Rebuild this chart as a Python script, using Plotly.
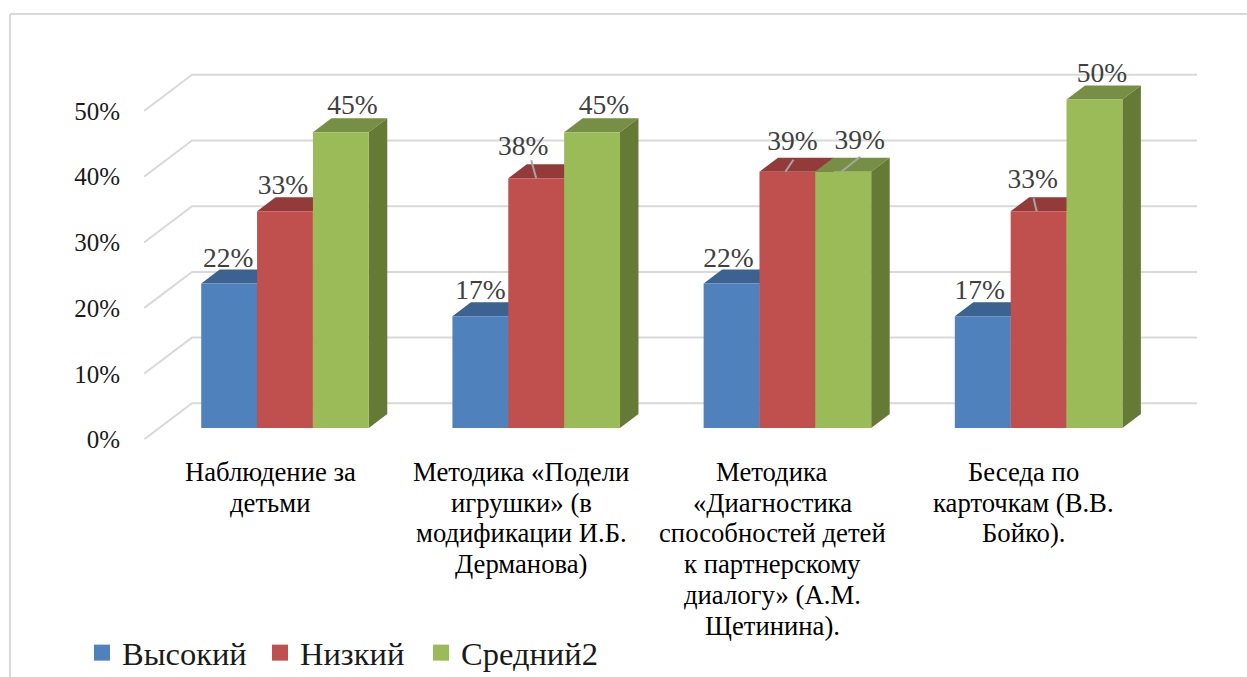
import plotly.graph_objects as go

# Data
categories = [
    "Наблюдение за<br>детьми",
    "Методика «Подели<br>игрушки» (в<br>модификации И.Б.<br>Дерманова)",
    "Методика<br>«Диагностика<br>способностей детей<br>к партнерскому<br>диалогу» (А.М.<br>Щетинина).",
    "Беседа по<br>карточкам (В.В.<br>Бойко).",
]
series_names = ["Высокий", "Низкий", "Средний2"]
vysokiy = [22, 17, 22, 17]
nizkiy = [33, 38, 39, 33]
sredniy = [45, 45, 39, 50]
tick_values = [0, 10, 20, 30, 40, 50]
tick_labels = ["0%", "10%", "20%", "30%", "40%", "50%"]

# Front, top and side colours of each series
front_colors = ["#4f81bd", "#c0504d", "#9bbb59"]
top_colors = ["#3c6290", "#923b39", "#778f44"]
side_colors = ["#2f4d72", "#763130", "#657a35"]

# Pixel geometry of the fake 3D box
W, H = 1247, 677
PLOT_L, PLOT_R, PLOT_T, PLOT_B = 144, 1197, 60, 439.5
PX_X = 251.2  # pixels per category
PX_Y = 6.57  # pixels per percent
BAR_W = 55.85 / PX_X
DEPTH_X = 18.5 / PX_X
DEPTH_Y = 14 / PX_Y
FLOOR = 11.5 / PX_Y  # bars stand this far above the front axis line
WALL_Y = 36.2 / PX_Y  # back wall gridlines
WALL_X = 48 / PX_X
X_MIN = (PLOT_L - 285) / PX_X
X_MAX = (PLOT_R - 285) / PX_X
Y_MAX = (PLOT_B - PLOT_T) / PX_Y
X_DOMAIN = [PLOT_L / W, PLOT_R / W]
Y_DOMAIN = [1 - PLOT_B / H, 1 - PLOT_T / H]

# Label offsets from bar centre / bar top, in pixels
label_dx = [[-1, 0, -3, -3], [-2, -13, 5, -6], [11.5, 12, 16.5, 7.5]]
label_dy = [[-23, -24, -23, -24], [-24.5, -30.5, -29, -30], [-25, -25, -30, -24.5]]
# (series, category, start dx, start dy, end dx) in pixels
leaders = [(1, 1, -5, -18, 0), (1, 2, 6, -12, -2), (2, 2, 17, -15, -2), (1, 3, -5, -13, -2)]
# Left edge of each legend entry, in pixels
legend_left = [82, 260, 421]


def bar_left(cat, s):
    return cat + (s - 1.5) * BAR_W


all_values = [vysokiy, nizkiy, sredniy]
n_cats = len(categories)
fig = go.Figure()

# Gridlines: a diagonal on the side wall, then along the back wall
grid_x, grid_y = [], []
for t in tick_values:
    grid_x += [X_MIN, X_MIN + WALL_X, X_MAX, None]
    grid_y += [t, t + WALL_Y, t + WALL_Y, None]
fig.add_trace(go.Scatter(x=grid_x, y=grid_y, mode="lines", line=dict(color="#d9d9d9", width=2),
                         showlegend=False, hoverinfo="skip"))

# Top and side faces sit under the bars of the overlaid subplot
for s, values in enumerate(all_values):
    top_x, top_y, side_x, side_y = [], [], [], []
    for c, v in enumerate(values):
        x0 = bar_left(c, s)
        x1 = x0 + BAR_W
        y1 = v + FLOOR
        top_x += [x0, x0 + DEPTH_X, x1 + DEPTH_X, x1, x0, None]
        top_y += [y1, y1 + DEPTH_Y, y1 + DEPTH_Y, y1, y1, None]
        side_x += [x1, x1 + DEPTH_X, x1 + DEPTH_X, x1, x1, None]
        side_y += [y1, y1 + DEPTH_Y, FLOOR + DEPTH_Y, FLOOR, y1, None]
    fig.add_trace(go.Scatter(x=top_x, y=top_y, mode="none", fill="toself", fillcolor=top_colors[s],
                             showlegend=False, hoverinfo="skip"))
    fig.add_trace(go.Scatter(x=side_x, y=side_y, mode="none", fill="toself", fillcolor=side_colors[s],
                             showlegend=False, hoverinfo="skip"))

# Front faces
for s, values in enumerate(all_values):
    fig.add_trace(go.Bar(
        x=list(range(n_cats)),
        y=values,
        base=FLOOR,
        name=series_names[s],
        marker=dict(color=front_colors[s], line=dict(width=0)),
        xaxis="x2",
        yaxis="y2",
        showlegend=False,
    ))

# Legend entries: bar swatches are too small, so use square markers.
# Each entry gets its own legend so the spacing can follow the picture.
legend_ids = ["legend", "legend2", "legend3"]
for s, name in enumerate(series_names):
    fig.add_trace(go.Scatter(x=[None], y=[None], mode="markers", name=name, legend=legend_ids[s],
                             marker=dict(symbol="square", size=16, color=front_colors[s])))

# Leader lines
lead_x, lead_y = [], []
for s, c, dx0, dy0, dx1 in leaders:
    center = bar_left(c, s) + BAR_W / 2
    top = all_values[s][c] + FLOOR
    lead_x += [center + dx0 / PX_X, center + dx1 / PX_X, None]
    lead_y += [top - dy0 / PX_Y, top, None]
fig.add_trace(go.Scatter(x=lead_x, y=lead_y, mode="lines", line=dict(color="#a6a6a6", width=2),
                         xaxis="x2", yaxis="y2", showlegend=False, hoverinfo="skip"))

# Data labels
for s, values in enumerate(all_values):
    fig.add_trace(go.Scatter(
        x=[bar_left(c, s) + BAR_W / 2 + label_dx[s][c] / PX_X for c in range(n_cats)],
        y=[v + FLOOR - label_dy[s][c] / PX_Y for c, v in enumerate(values)],
        text=[f"{v}%" for v in values],
        mode="text",
        textposition="middle center",
        textfont=dict(family="Liberation Serif", size=27.5, color="#404040"),
        xaxis="x2",
        yaxis="y2",
        showlegend=False,
        hoverinfo="skip",
    ))

# Category labels, one annotation per line because the line spacing is wider than plotly's
annotations = []
for c, label in enumerate(categories):
    for i, line in enumerate(label.split("<br>")):
        annotations.append(dict(
            x=c - 15 / PX_X, xref="x", xanchor="center",
            y=1 - (472 + i * 30.7) / H, yref="paper", yanchor="middle",
            text=line, showarrow=False,
            font=dict(family="Liberation Serif", size=26.7, color="#000000"),
        ))

legends = {
    legend_ids[s]: dict(
        x=legend_left[s] / W,
        xanchor="left",
        y=1 - 653 / H,
        yanchor="middle",
        font=dict(family="Liberation Serif", size=32.5, color="#1a1a1a"),
        bgcolor="rgba(0,0,0,0)",
        itemsizing="trace",
    )
    for s in range(3)
}

fig.update_layout(
    width=W,
    height=H,
    margin=dict(l=0, r=0, t=0, b=0, pad=0, autoexpand=False),
    plot_bgcolor="white",
    paper_bgcolor="white",
    barmode="group",
    bargap=1 - 3 * BAR_W,
    bargroupgap=0,
    font=dict(family="Liberation Serif", color="#000000"),
    xaxis=dict(domain=X_DOMAIN, range=[X_MIN, X_MAX], visible=False),
    yaxis=dict(
        domain=Y_DOMAIN,
        range=[0, Y_MAX],
        tickvals=tick_values,
        ticktext=tick_labels,
        showgrid=False,
        zeroline=False,
        showline=False,
        ticks="outside",
        ticklen=18,
        tickcolor="rgba(0,0,0,0)",
        tickfont=dict(family="Liberation Serif", size=25, color="#1a1a1a"),
    ),
    xaxis2=dict(domain=X_DOMAIN, range=[X_MIN, X_MAX], overlaying="x", visible=False),
    yaxis2=dict(domain=Y_DOMAIN, range=[0, Y_MAX], overlaying="y", visible=False),
    annotations=annotations,
    shapes=[
        dict(type="line", xref="paper", yref="paper", x0=10 / W, x1=1,
             y0=1 - 14 / H, y1=1 - 14 / H, line=dict(color="#d9d9d9", width=2)),
        dict(type="line", xref="paper", yref="paper", x0=10 / W, x1=10 / W,
             y0=1 - 14 / H, y1=0, line=dict(color="#d9d9d9", width=2)),
    ],
    **legends,
)

fig.write_html("out.html", config=dict(displayModeBar=False), post_script="document.body.style.margin='0';")
